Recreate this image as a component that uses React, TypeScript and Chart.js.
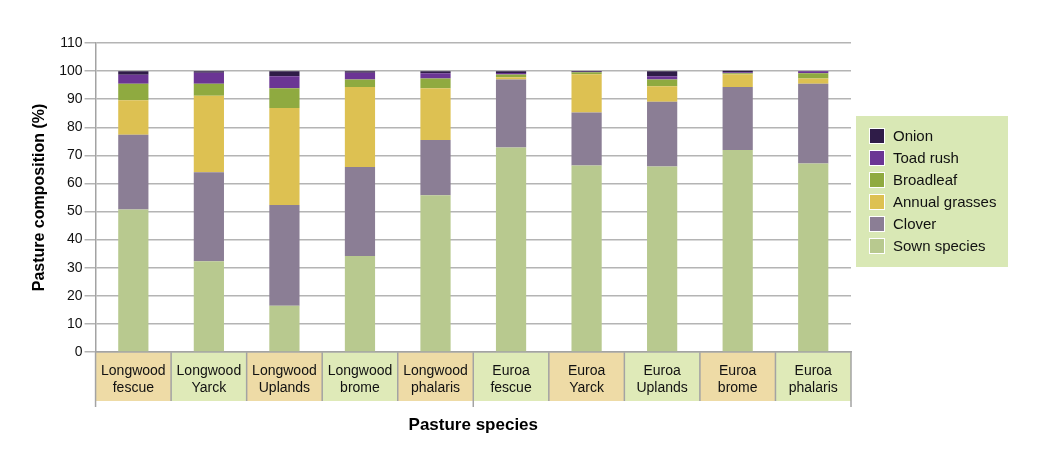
import React, { useEffect, useRef } from 'react';
import { Chart, registerables } from 'chart.js';

Chart.register(...registerables);

const categories: string[][] = [
  ['Longwood', 'fescue'],
  ['Longwood', 'Yarck'],
  ['Longwood', 'Uplands'],
  ['Longwood', 'brome'],
  ['Longwood', 'phalaris'],
  ['Euroa', 'fescue'],
  ['Euroa', 'Yarck'],
  ['Euroa', 'Uplands'],
  ['Euroa', 'brome'],
  ['Euroa', 'phalaris'],
];

const sownSpecies = [50.7, 32.3, 16.5, 34.2, 55.8, 72.8, 66.4, 66.0, 71.9, 67.1];
const clover = [26.6, 31.7, 35.8, 31.7, 19.7, 24.2, 18.9, 23.1, 22.4, 28.4];
const annualGrasses = [12.3, 27.2, 34.6, 28.4, 18.4, 0.8, 13.6, 5.5, 4.6, 1.9];
const broadleaf = [5.9, 4.3, 7.0, 2.7, 3.5, 1.0, 0.7, 2.4, 0.3, 1.8];
const toadRush = [3.2, 3.9, 4.3, 2.4, 1.8, 0.5, 0.2, 1.2, 0.4, 0.7];
const onion = [1.2, 0.5, 1.7, 0.5, 0.7, 0.6, 0.2, 1.7, 0.5, 0.1];

const yTicks = [0, 10, 20, 30, 40, 50, 60, 70, 80, 90, 100, 110];

const FONT = '"Liberation Sans", Arial, Helvetica, sans-serif';
const GRID = '#b4b4b4';
const CELL_COLORS = ['#eedba6', '#dfeab8'];

document.body.style.margin = '0';

// cells behind the category labels, with group separators
const categoryCells = {
  id: 'categoryCells',
  beforeDraw(chart: any) {
    const x = chart.scales.x;
    const ctx = chart.ctx;
    const n = chart.data.labels.length;
    const w = x.width / n;
    const top = x.top;
    const bottom = top + 49;
    ctx.save();
    for (let i = 0; i < n; i++) {
      const left = x.getPixelForValue(i) - w / 2;
      ctx.fillStyle = CELL_COLORS[i % 2];
      ctx.fillRect(left, top, w, bottom - top);
    }
    ctx.strokeStyle = '#a3a3a3';
    ctx.lineWidth = 1.5;
    for (let i = 0; i <= n; i++) {
      const px = x.left + i * w;
      const ext = i % 5 === 0 ? 6 : 0;
      ctx.beginPath();
      ctx.moveTo(px, top);
      ctx.lineTo(px, bottom + ext);
      ctx.stroke();
    }
    ctx.restore();
  },
};

// boxed legend at the right, top entry = last dataset
const boxLegend = {
  id: 'boxLegend',
  afterDraw(chart: any) {
    const ctx = chart.ctx;
    const area = chart.chartArea;
    const left = area.right + 5;
    const top = 116;
    const width = 152;
    const height = 151;
    ctx.save();
    ctx.fillStyle = '#d9e8b5';
    ctx.fillRect(left, top, width, height);
    const sets = [...chart.data.datasets].reverse();
    ctx.font = `15px ${FONT}`;
    ctx.textBaseline = 'middle';
    sets.forEach((ds: any, i: number) => {
      const cy = top + 20 + i * 22;
      ctx.fillStyle = '#ffffff';
      ctx.fillRect(left + 13, cy - 8, 16, 16);
      ctx.fillStyle = ds.backgroundColor;
      ctx.fillRect(left + 14, cy - 7, 14, 14);
      ctx.fillStyle = '#111111';
      ctx.fillText(ds.label, left + 37, cy + 1);
    });
    ctx.restore();
  },
};

export default function App() {
  const chartRef = useRef<HTMLCanvasElement>(null);
  const chartInstance = useRef<Chart | null>(null);

  useEffect(() => {
    if (!chartRef.current) return;
    if (chartInstance.current) {
      chartInstance.current.destroy();
    }
    const ctx = chartRef.current.getContext('2d');
    if (!ctx) return;

    const series = [
      { label: 'Sown species', data: sownSpecies, color: '#b8c98f' },
      { label: 'Clover', data: clover, color: '#8b7e95' },
      { label: 'Annual grasses', data: annualGrasses, color: '#ddc152' },
      { label: 'Broadleaf', data: broadleaf, color: '#8faa40' },
      { label: 'Toad rush', data: toadRush, color: '#6b3594' },
      { label: 'Onion', data: onion, color: '#2f1c48' },
    ];

    chartInstance.current = new Chart(ctx, {
      type: 'bar',
      data: {
        labels: categories,
        datasets: series.map((s) => ({
          label: s.label,
          data: s.data,
          backgroundColor: s.color,
          borderWidth: 0,
          barPercentage: 0.4,
          categoryPercentage: 1,
        })),
      },
      plugins: [categoryCells, boxLegend],
      options: {
        responsive: true,
        maintainAspectRatio: false,
        animation: false,
        layout: {
          padding: { top: 43, right: 189, bottom: 22, left: 30 },
        },
        scales: {
          x: {
            stacked: true,
            grid: { display: false },
            border: { display: true, color: '#a3a3a3', width: 1.5 },
            ticks: {
              color: '#111111',
              font: { family: FONT, size: 14 },
              padding: 3,
              maxRotation: 0,
              autoSkip: false,
            },
            title: {
              display: true,
              text: 'Pasture species',
              color: '#000000',
              font: { family: FONT, size: 17, weight: 'bold' },
              padding: { top: 16, bottom: 0 },
            },
          },
          y: {
            stacked: true,
            min: 0,
            max: 110,
            afterBuildTicks: (scale: any) => {
              scale.ticks = yTicks.map((v) => ({ value: v }));
            },
            grid: {
              color: GRID,
              lineWidth: 1.5,
              tickLength: 11,
            },
            border: { display: true, color: '#a3a3a3', width: 1.5 },
            ticks: {
              color: '#111111',
              font: { family: FONT, size: 14 },
              padding: 2,
            },
            title: {
              display: true,
              text: 'Pasture composition (%)',
              color: '#000000',
              font: { family: FONT, size: 16, weight: 'bold' },
              padding: { top: 0, bottom: 8 },
            },
          },
        },
        plugins: {
          legend: { display: false },
          tooltip: { enabled: false },
        },
      },
    });

    return () => {
      if (chartInstance.current) {
        chartInstance.current.destroy();
        chartInstance.current = null;
      }
    };
  }, []);

  return (
    <div style={{ width: 1040, height: 458, position: 'relative' }}>
      <canvas ref={chartRef}></canvas>
    </div>
  );
}
